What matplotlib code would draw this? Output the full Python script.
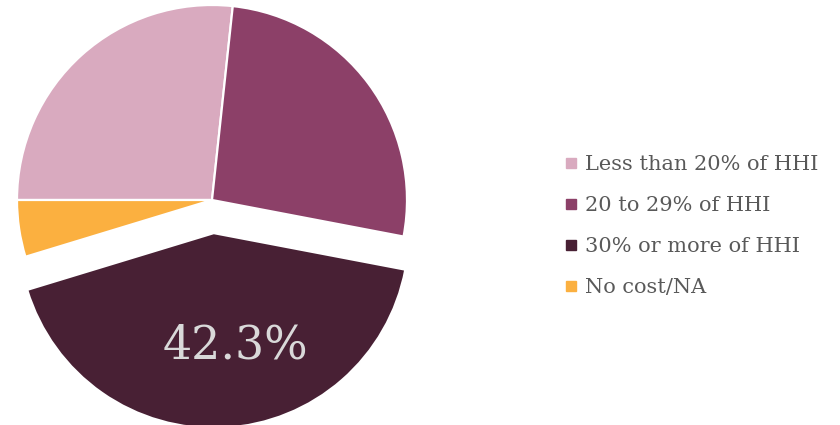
import matplotlib
matplotlib.use("Agg")
import matplotlib.pyplot as plt
from matplotlib.lines import Line2D

categories = ["Less than 20% of HHI", "20 to 29% of HHI", "30% or more of HHI", "No cost/NA"]
values = [26.7, 26.3, 42.3, 4.7]
colors = ["#D9AABF", "#8C4068", "#482034", "#FBB040"]
explode = [0, 0, 0.17, 0]

W, H = 840, 425
fig = plt.figure(figsize=(W / 100, H / 100), dpi=100)
ax = fig.add_axes([0, 0, 1, 1])

cx, cy, r = 212, 200, 195  # pixel centre and radius
wedges, _ = ax.pie(values, colors=colors, explode=explode, startangle=180,
                   counterclock=False, radius=1.0,
                   wedgeprops=dict(edgecolor="white", linewidth=1.6))
ax.set_aspect("auto")
ax.set_xlim(-cx / r, (W - cx) / r)
ax.set_ylim(-(H - cy) / r, cy / r)
ax.axis("off")

# data label for the largest slice
ax.text((235 - cx) / r, -(346 - cy) / r, f"{values[2]:.1f}%", ha="center", va="center",
        fontsize=33, color="#D9D9D9", family="DejaVu Serif")

handles = [Line2D([0], [0], marker="s", linestyle="none", markersize=7,
                  markerfacecolor=c, markeredgecolor=c) for c in colors]
leg = ax.legend(handles, categories, loc="center left", bbox_to_anchor=(555 / W, 1 - 226 / H),
                frameon=False, labelspacing=1.05, handlelength=0.7,
                handletextpad=0.35, borderaxespad=0,
                prop={"family": "DejaVu Serif", "size": 15})
for t in leg.get_texts():
    t.set_color("#595959")

fig.savefig("out.png", dpi=100, facecolor="white")
